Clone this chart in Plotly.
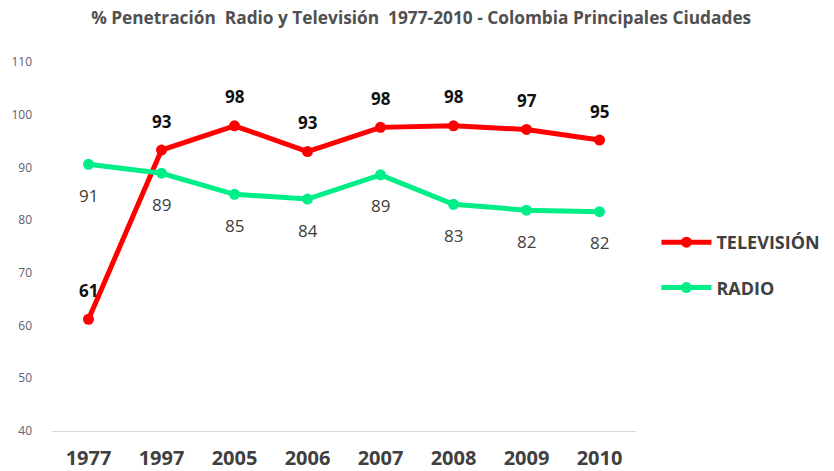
import plotly.graph_objects as go

years = ["1977", "1997", "2005", "2006", "2007", "2008", "2009", "2010"]
television = [61.2, 93.3, 97.9, 93.0, 97.6, 97.9, 97.2, 95.2]
radio = [90.6, 88.9, 84.9, 84.0, 88.6, 83.0, 81.9, 81.6]

TV_COLOR = "#FF0000"
RADIO_COLOR = "#00EE88"
FONT = "Open Sans"

fig = go.Figure()
fig.add_trace(go.Scatter(
    x=years, y=television, name="<b>TELEVISIÓN</b>", mode="lines+markers",
    legendgroup="tv",
    line=dict(color=TV_COLOR, width=5), marker=dict(size=11, color=TV_COLOR),
))
fig.add_trace(go.Scatter(
    x=years, y=radio, name="<b>RADIO</b>", mode="lines+markers",
    legendgroup="radio",
    line=dict(color=RADIO_COLOR, width=5), marker=dict(size=11, color=RADIO_COLOR),
))

# value labels: television above its markers, radio below
annotations = []
for i, v in enumerate(television):
    annotations.append(dict(
        x=i, y=v, xref="x", yref="y", text=f"<b>{v:.0f}</b>", showarrow=False, yshift=29,
        font=dict(family=FONT, size=17, color="#111111"),
    ))
for i, v in enumerate(radio):
    annotations.append(dict(
        x=i, y=v, xref="x", yref="y", text=f"{v:.0f}", showarrow=False, yshift=-31,
        font=dict(family=FONT, size=17, color="#404040"),
    ))

fig.update_layout(
    width=834, height=471,
    margin=dict(l=52, r=198, t=62, b=40, autoexpand=False),
    paper_bgcolor="white", plot_bgcolor="white",
    title=dict(
        text="<b>% Penetración&nbsp; Radio y Televisión&nbsp; 1977-2010 - Colombia Principales Ciudades</b>",
        x=0.505, xanchor="center", y=0.962, yanchor="middle",
        font=dict(family=FONT, size=17.3, color="#505050"),
    ),
    showlegend=True,
    legend=dict(
        x=1.035, xanchor="left", y=0.45, yanchor="middle",
        font=dict(family=FONT, size=18, color="#404040"),
        itemwidth=50, tracegroupgap=19, bgcolor="rgba(0,0,0,0)",
    ),
    annotations=annotations,
)
fig.update_xaxes(
    type="category", categoryorder="array", categoryarray=years,
    range=[-0.5, len(years) - 0.5], automargin=False,
    showgrid=False, showline=True, linecolor="#D9D9D9", linewidth=1,
    ticks="", tickfont=dict(family=FONT, size=20, color="#404040"),
    tickvals=years, ticktext=[f"<b>{y}</b>" for y in years], ticklabelstandoff=9,
)
fig.update_yaxes(
    range=[40, 110], dtick=10, showgrid=False, zeroline=False, showline=False,
    automargin=False,
    ticks="", tickfont=dict(family=FONT, size=12, color="#606070"), ticklabelstandoff=19,
)

fig.write_html("out.html")
